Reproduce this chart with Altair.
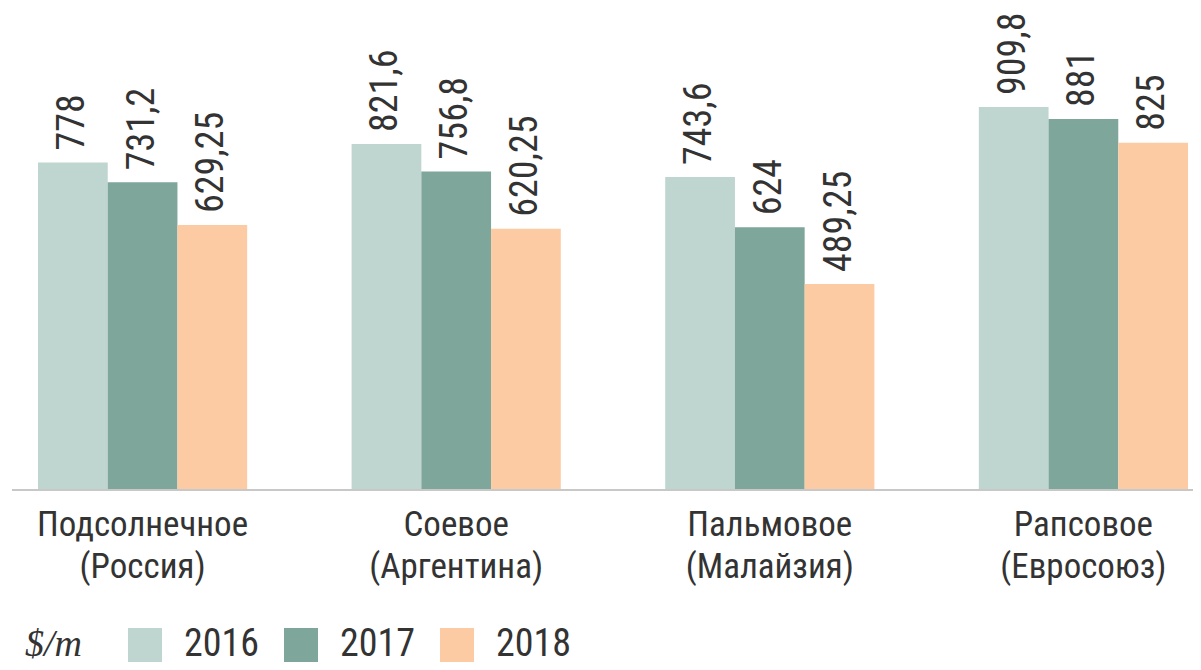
import altair as alt
import pandas as pd

categories = ["Подсолнечное|(Россия)", "Соевое|(Аргентина)", "Пальмовое|(Малайзия)", "Рапсовое|(Евросоюз)"]
years = ["2016", "2017", "2018"]
v2016 = [778, 821.6, 743.6, 909.8]
v2017 = [731.2, 756.8, 624, 881]
v2018 = [629.25, 620.25, 489.25, 825]
colors = ["#bfd5cf", "#7ea69b", "#fccba3"]

rows = []
for series, yr in zip([v2016, v2017, v2018], years):
    for cat, v in zip(categories, series):
        rows.append({"cat": cat, "year": yr, "value": v,
                     "label": f"{v:g}".replace(".", ",")})
df = pd.DataFrame(rows)

FONT = "Liberation Sans Narrow, Roboto Condensed, DejaVu Sans Condensed, sans-serif"

x = alt.X("cat:N", sort=categories, title=None,
          scale=alt.Scale(paddingInner=0.333, paddingOuter=0),
          axis=alt.Axis(domain=False, ticks=False, labelAngle=0,
                        labelExpr="split(datum.label, '|')",
                        labelFont=FONT, labelFontSize=35, labelColor="#333333",
                        labelLineHeight=42, labelPadding=17, labelLimit=400))
xo = alt.XOffset("year:N", sort=years, scale=alt.Scale(paddingInner=0, paddingOuter=0))
y = alt.Y("value:Q", scale=alt.Scale(domain=[0, 1000], nice=False), axis=None)

bars = alt.Chart(df).mark_bar(opacity=1).encode(
    x=x, xOffset=xo, y=y,
    color=alt.Color("year:N", sort=years,
                    scale=alt.Scale(domain=years, range=colors),
                    legend=alt.Legend(title="$/m", orient="none", direction="horizontal",
                                      legendX=-13, legendY=557,
                                      titleOrient="left", titleFont="Liberation Serif",
                                      titleFontStyle="italic", titleFontWeight="normal",
                                      titleFontSize=38, titleColor="#333333", titlePadding=44,
                                      titleBaseline="middle",
                                      symbolType="square", symbolSize=1156,
                                      symbolStrokeWidth=0, symbolOpacity=1,
                                      labelFont=FONT, labelFontSize=38, labelColor="#333333",
                                      labelOffset=20, columnPadding=22)),
)

labels = alt.Chart(df).mark_text(angle=270, align="left", baseline="middle", dx=12,
                                 font=FONT, fontSize=38, color="#333333").encode(
    x=x, xOffset=xo, y=y, text="label:N"
)

baseline = alt.Chart(df).mark_rule(color="#c8c8c8", strokeWidth=2).encode(
    x=alt.value(-26), x2=alt.value(1157), y=alt.value(421)
)

chart = alt.layer(bars, baseline, labels).properties(
    width=1150, height=421,
    autosize=alt.AutoSizeParams(type="none"),
    padding={"left": 30, "top": 61, "right": 5, "bottom": 178},
).configure_view(stroke=None)

chart.save("out.html", embed_options={"renderer": "svg", "actions": False})
